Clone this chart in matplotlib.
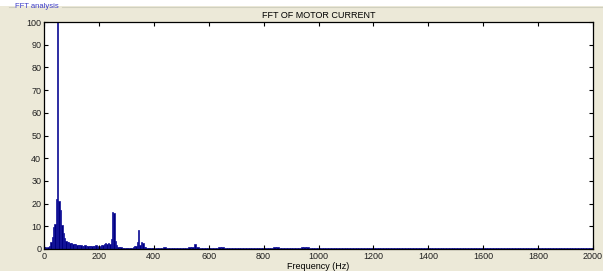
import numpy as np
from matplotlib import pyplot as plt

# low band, 5 Hz bins from 0 to 400 Hz
low_freq = list(range(0, 405, 5))
low_amp = [
    1.0, 0.8, 0.6, 0.8, 1.5, 3.0, 5.5, 9.5, 11.0, 22.0,
    140.0, 21.0, 17.0, 10.5, 7.0, 5.0, 3.5, 3.2, 3.0, 2.8,
    2.6, 2.4, 2.2, 2.0, 1.8, 1.7, 1.6, 1.6, 1.5, 1.5,
    1.6, 1.5, 1.4, 1.5, 1.4, 1.3, 1.4, 1.2, 1.6, 1.3,
    1.1, 1.4, 1.6, 1.9, 2.3, 2.6, 2.4, 2.5, 2.4, 4.6,
    16.2, 15.8, 3.5, 1.6, 1.0, 0.8, 0.7, 0.6, 0.6, 0.5,
    0.5, 0.4, 0.5, 0.4, 0.6, 0.8, 1.2, 1.5, 3.0, 8.2,
    1.8, 3.3, 2.6, 1.0, 0.8, 0.6, 0.5, 0.6, 0.5, 0.4,
    0.5,
]

# high band, 10 Hz bins from 410 to 2000 Hz
high_freq = list(range(410, 2010, 10))
high_amp = [
    0.6, 0.5, 0.6, 0.7, 0.5, 0.6, 0.5, 0.6, 0.5, 0.6,
    0.5, 0.6, 0.7, 1.0, 2.0, 0.8, 0.6, 0.5, 0.6, 0.5,
    0.5, 0.6, 0.5, 0.8, 0.7, 0.5, 0.6, 0.5, 0.5, 0.5,
    0.5, 0.5, 0.5, 0.5, 0.5, 0.5, 0.5, 0.5, 0.5, 0.5,
    0.5, 0.5, 0.6, 1.0, 0.7, 0.5, 0.5, 0.5, 0.5, 0.5,
    0.5, 0.5, 0.5, 0.7, 1.0, 0.8, 0.5, 0.5, 0.5, 0.5,
    0.5, 0.5, 0.5, 0.5, 0.5, 0.5, 0.5, 0.5, 0.5, 0.5,
    0.5, 0.5, 0.5, 0.6, 0.5, 0.5, 0.5, 0.5, 0.5, 0.5,
    0.5, 0.5, 0.5, 0.5, 0.5, 0.5, 0.5, 0.5, 0.5, 0.5,
    0.5, 0.5, 0.5, 0.5, 0.5, 0.5, 0.5, 0.5, 0.5, 0.5,
    0.5, 0.5, 0.5, 0.5, 0.5, 0.5, 0.5, 0.5, 0.5, 0.5,
    0.5, 0.5, 0.5, 0.5, 0.5, 0.5, 0.5, 0.5, 0.5, 0.5,
    0.5, 0.5, 0.5, 0.5, 0.5, 0.5, 0.5, 0.5, 0.5, 0.5,
    0.5, 0.5, 0.5, 0.5, 0.5, 0.5, 0.5, 0.5, 0.5, 0.5,
    0.5, 0.5, 0.5, 0.5, 0.5, 0.5, 0.5, 0.5, 0.5, 0.5,
    0.5, 0.5, 0.5, 0.5, 0.5, 0.5, 0.5, 0.5, 0.5, 0.5,
]

x_ticks = list(range(0, 2200, 200))
y_ticks = list(range(0, 110, 10))

plt.rcParams['font.family'] = ['Liberation Sans', 'DejaVu Sans']

bg = '#ece9d8'
fig = plt.figure(figsize=(6.03, 2.71), dpi=100, facecolor=bg)

# white strip above the group box border
fig.patches.append(plt.Rectangle((0, 1 - 6 / 271), 1, 6 / 271, transform=fig.transFigure,
                                 facecolor='white', edgecolor='none', zorder=0))
fig.add_artist(plt.Line2D([62 / 603, 1], [1 - 6.5 / 271] * 2, color='#d0d0bf', lw=0.8))
fig.add_artist(plt.Line2D([9 / 603, 14 / 603], [1 - 6.5 / 271] * 2, color='#d0d0bf', lw=0.8))
fig.text(15 / 603, 1 - 6.5 / 271, 'FFT analysis', color='#3c3cc8', fontsize=5.5,
         va='center', ha='left')

ax = fig.add_axes([44 / 603, 22 / 271, (593 - 44) / 603, (249 - 22) / 271])
ax.set_facecolor('white')
ax.bar(low_freq, low_amp, width=5, facecolor='#00007f', edgecolor='#10109a', linewidth=0.5)
ax.bar(high_freq, high_amp, width=10, facecolor='#00007f', edgecolor='#10109a', linewidth=0.5)

ax.set_xlim(0, 2000)
ax.set_ylim(0, 100)
ax.set_xticks(x_ticks)
ax.set_yticks(y_ticks)
ax.tick_params(direction='in', length=3, width=0.8, labelsize=6.5, pad=2,
               top=True, right=True, labelcolor='#202020')
for s in ax.spines.values():
    s.set_linewidth(0.9)
ax.set_title('FFT OF MOTOR CURRENT', fontsize=6.5, pad=3)
ax.set_xlabel('Frequency (Hz)', fontsize=6.5, labelpad=1)

fig.savefig('out.png', dpi=100, facecolor=bg)
